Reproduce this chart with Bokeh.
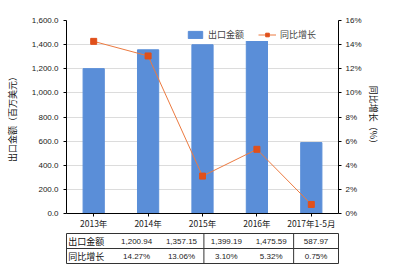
from bokeh.plotting import figure
from bokeh.models import (FactorRange, Range1d, LinearAxis, SingleIntervalTicker,
                          NumeralTickFormatter, PrintfTickFormatter, Legend)
from bokeh.layouts import column
from bokeh.embed import file_html
from bokeh.resources import INLINE
from bokeh.core.properties import value

categories = ["2013年", "2014年", "2015年", "2016年", "2017年1-5月"]
export_values = [1200.94, 1357.15, 1399.19, 1475.59, 587.97]
growth_pct = [14.27, 13.06, 3.10, 5.32, 0.75]
row_labels = ["出口金额", "同比增长"]
left_title = "出口金额（百万美元）"
right_title = "同比增长（%）"

CJK = "Noto Sans CJK SC"
NUM = "Liberation Sans"
BAR = "#5A8ED8"
LINE = "#EC7A40"
MARK = "#E0501B"

p = figure(width=400, height=232, x_range=FactorRange(*categories),
           y_range=Range1d(0, 1600), output_backend="svg", toolbar_location=None,
           min_border_left=66, min_border_right=61, min_border_top=20, min_border_bottom=19)
p.outline_line_color = None
p.extra_y_ranges = {"pct": Range1d(0, 16)}

bars = p.vbar(x=categories, top=export_values, width=0.39, color=BAR)
ln = p.line(x=categories, y=growth_pct, y_range_name="pct", color=LINE, line_width=1)
mk = p.scatter(x=categories, y=growth_pct, y_range_name="pct", marker="square",
               size=6, color=MARK)

# axes
p.xaxis.axis_line_color = "black"
p.xaxis.major_tick_line_color = "black"
p.xaxis.major_tick_out = 3
p.xaxis.major_tick_in = 0
p.xaxis.major_label_standoff = 0
p.xaxis.major_label_text_font = CJK
p.xaxis.major_label_text_font_size = "8.5px"
p.xaxis.major_label_text_color = "#222222"
p.xgrid.grid_line_color = None

ya = p.yaxis[0]
ya.ticker = SingleIntervalTicker(interval=200)
ya.formatter = NumeralTickFormatter(format="0,0.0")
ya.axis_line_color = "black"
ya.major_tick_out = 3
ya.major_tick_in = 0
ya.minor_tick_line_color = None
ya.major_label_standoff = 4
ya.major_label_text_font = NUM
ya.major_label_text_font_size = "8px"
ya.major_label_text_color = "#222222"
ya.axis_label = left_title
ya.axis_label_text_font = CJK
ya.axis_label_text_font_size = "9px"
ya.axis_label_text_font_style = "normal"
ya.axis_label_text_color = "#111111"
ya.axis_label_standoff = 10
p.ygrid.grid_line_color = "#dcdcdc"
p.ygrid.ticker = SingleIntervalTicker(interval=200)

ra = LinearAxis(y_range_name="pct", ticker=SingleIntervalTicker(interval=2),
                formatter=PrintfTickFormatter(format="%d%%"))
ra.axis_line_color = "black"
ra.major_tick_out = 3
ra.major_tick_in = 0
ra.minor_tick_line_color = None
ra.major_label_standoff = 3
ra.major_label_text_font = NUM
ra.major_label_text_font_size = "8px"
ra.major_label_text_color = "#222222"
ra.axis_label = right_title
ra.axis_label_text_font = CJK
ra.axis_label_text_font_size = "9px"
ra.axis_label_text_font_style = "normal"
ra.axis_label_text_color = "#111111"
ra.axis_label_standoff = 2
p.add_layout(ra, "right")

legend = Legend(items=[(row_labels[0], [bars]), (row_labels[1], [ln, mk])],
                location=(120, 172), orientation="horizontal",
                background_fill_color="white", background_fill_alpha=1,
                border_line_color=None, label_text_font=CJK, label_text_font_size="9px",
                glyph_width=18, glyph_height=9, label_standoff=4, spacing=14,
                padding=2, margin=0)
p.add_layout(legend)

# data table below the chart
lab_w = 58 / 54.6
t = figure(width=400, height=37, x_range=Range1d(-lab_w, 5), y_range=Range1d(0, 2),
           output_backend="svg", toolbar_location=None,
           min_border_left=8, min_border_right=62, min_border_top=1, min_border_bottom=6)
t.xaxis.visible = False
t.yaxis.visible = False
t.grid.grid_line_color = None
t.outline_line_color = "#333333"
t.outline_line_width = 1
t.segment(x0=[-lab_w, 2, 4], y0=[1, 0, 0], x1=[5, 2, 4], y1=[1, 2, 2],
          color="#333333", line_width=1)

xs = [i + 0.5 for i in range(len(categories))]
t.text(x=xs, y=[1.5] * 5, text=[f"{v:,.2f}" for v in export_values],
       text_align="center", text_baseline="middle", text_font=value(NUM),
       text_font_size="8px", text_color="#222222")
t.text(x=xs, y=[0.5] * 5, text=[f"{v:.2f}%" for v in growth_pct],
       text_align="center", text_baseline="middle", text_font=value(NUM),
       text_font_size="8px", text_color="#222222")
t.text(x=[-lab_w + 0.04] * 2, y=[1.5, 0.5], text=row_labels,
       text_align="left", text_baseline="middle", text_font=value(CJK),
       text_font_size="9px", text_color="#111111")

layout = column(p, t, spacing=0)
open("out.html", "w").write(file_html(layout, INLINE))
